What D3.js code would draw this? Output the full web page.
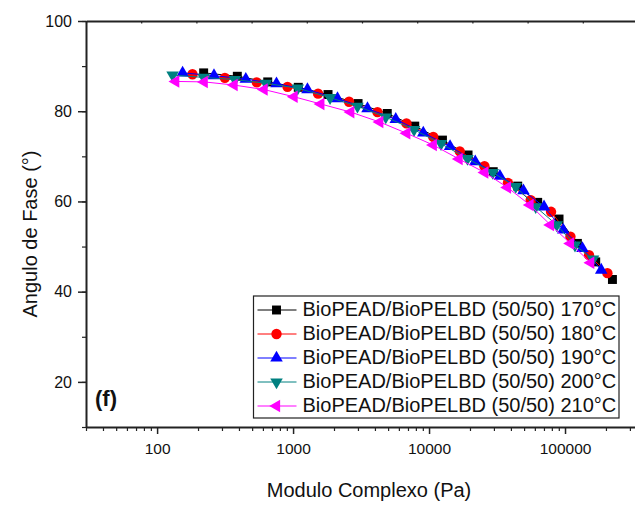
<!DOCTYPE html>
<html>
<head>
<meta charset="utf-8">
<script src="https://cdn.jsdelivr.net/npm/d3@7"></script>
<style>
  body { margin: 0; background: #fff; }
  text { font-family: Arial, "Liberation Sans", sans-serif; fill: #111; }
</style>
</head>
<body>
<svg id="chart"></svg>
<script>
// Values: complex modulus (Pa) vs phase angle (deg)
const seriesNames = [
  "BioPEAD/BioPELBD (50/50) 170°C",
  "BioPEAD/BioPELBD (50/50) 180°C",
  "BioPEAD/BioPELBD (50/50) 190°C",
  "BioPEAD/BioPELBD (50/50) 200°C",
  "BioPEAD/BioPELBD (50/50) 210°C"
];
const seriesColors = ["#000000", "#ff0000", "#0000ff", "#008080", "#ff00ff"];

const modulus170 = [220, 389, 651, 1092, 1808, 3006, 4929, 7851, 12550, 19360, 29650, 44890, 62950, 90360, 123300, 168200, 223200];
const phase170   = [88.5, 87.75, 86.5, 85.3, 83.7, 81.7, 79.5, 76.7, 73.6, 70.3, 66.6, 63.4, 59.8, 56.1, 50.7, 46.6, 42.7];

const modulus180 = [182, 315, 541, 910, 1527, 2581, 4174, 6822, 10740, 16820, 25550, 38030, 55950, 78930, 109600, 150200, 205000];
const phase180   = [88.2, 87.4, 86.4, 85.4, 83.9, 82.1, 79.8, 77.3, 74.3, 71.1, 67.8, 64.1, 60.3, 57.7, 52.2, 48.1, 44.1];

const modulus190 = [154, 262, 449, 755, 1276, 2121, 3525, 5690, 9067, 14270, 21870, 33210, 49440, 70090, 97000, 134300, 184600];
const phase190   = [88.5, 87.9, 87.1, 86.1, 84.8, 82.8, 80.6, 78.2, 75.2, 72.2, 68.8, 65.6, 62.4, 58.8, 53.7, 49.6, 44.8];

const modulus200 = [130, 220, 373, 630, 1083, 1871, 2975, 4804, 7757, 12250, 19160, 29400, 43400, 60900, 86900, 118400, 160700];
const phase200   = [88.0, 87.5, 87.0, 86.2, 85.1, 83.0, 81.1, 78.7, 75.9, 72.8, 69.5, 66.4, 63.3, 58.8, 54.8, 50.3, 47.2];

const modulus210 = [137, 222, 368, 612, 1017, 1599, 2657, 4340, 6855, 10740, 16620, 25680, 37720, 55290, 78100, 109600, 154500];
const phase210   = [86.6, 86.5, 85.8, 84.8, 83.2, 81.6, 79.8, 77.6, 75.1, 72.5, 69.4, 66.4, 63.1, 59.2, 54.8, 50.7, 46.4];

const xMajorTicks = [100, 1000, 10000, 100000];
const yMajorTicks = [20, 40, 60, 80, 100];

const allModulus = [modulus170, modulus180, modulus190, modulus200, modulus210];
const allPhase = [phase170, phase180, phase190, phase200, phase210];

const width = 635, height = 505;
const plotLeft = 86, plotTop = 21, plotBottom = 427, plotRight = 639;

const svg = d3.select("#chart")
    .attr("width", width)
    .attr("height", height);

const x = d3.scaleLog().domain([30, 350000]).range([plotLeft, plotRight]);
const y = d3.scaleLinear().domain([10, 100]).range([plotBottom, plotTop]);

// minor ticks for the log axis: 2..9 times each decade
const xMinorTicks = [];
for (let p = 1; p <= 5; p++) {
  for (let m = 2; m <= 9; m++) {
    const v = m * Math.pow(10, p);
    if (v >= 30 && v <= 350000) xMinorTicks.push(v);
  }
}

// bottom axis
svg.append("g")
    .attr("transform", `translate(0,${plotBottom})`)
    .call(d3.axisBottom(x).tickValues(xMinorTicks).tickSize(4).tickSizeOuter(0).tickFormat(""))
    .call(g => g.select(".domain").remove())
    .call(g => g.selectAll("line").attr("stroke", "#222").attr("stroke-width", 1.2));

svg.append("g")
    .attr("transform", `translate(0,${plotBottom})`)
    .call(d3.axisBottom(x).tickValues(xMajorTicks).tickSize(7).tickSizeOuter(0).tickPadding(9)
      .tickFormat(d3.format("d")))
    .call(g => g.select(".domain").attr("stroke", "#222").attr("stroke-width", 2))
    .call(g => g.selectAll("line").attr("stroke", "#222").attr("stroke-width", 1.5))
    .call(g => g.selectAll("text").attr("font-size", 15.5).attr("fill", "#111"));

// left axis
svg.append("g")
    .attr("transform", `translate(${plotLeft},0)`)
    .call(d3.axisLeft(y).tickValues(d3.range(10, 101, 10)).tickSize(4).tickSizeOuter(0).tickFormat(""))
    .call(g => g.select(".domain").remove())
    .call(g => g.selectAll("line").attr("stroke", "#222").attr("stroke-width", 1.2));

svg.append("g")
    .attr("transform", `translate(${plotLeft},0)`)
    .call(d3.axisLeft(y).tickValues(yMajorTicks).tickSize(8).tickSizeOuter(0).tickPadding(6))
    .call(g => g.select(".domain").attr("stroke", "#222").attr("stroke-width", 2))
    .call(g => g.selectAll("line").attr("stroke", "#222").attr("stroke-width", 1.5))
    .call(g => g.selectAll("text").attr("font-size", 16).attr("fill", "#111"));

// top axis line with its own evenly spaced ticks
const xTop = d3.scaleLinear().domain([0, 10]).range([plotLeft, 638]);
svg.append("g")
    .attr("transform", `translate(0,${plotTop})`)
    .call(d3.axisTop(xTop).ticks(10).tickSize(-2.5).tickSizeOuter(0).tickFormat(""))
    .call(g => g.select(".domain").attr("stroke", "#222").attr("stroke-width", 2))
    .call(g => g.selectAll("line").attr("stroke", "#222").attr("stroke-width", 1.2));

// axis titles
svg.append("text")
    .attr("x", 369)
    .attr("y", 497)
    .attr("text-anchor", "middle")
    .attr("font-size", 20)
    .text("Modulo Complexo (Pa)");

svg.append("text")
    .attr("transform", "translate(37,234) rotate(-90)")
    .attr("text-anchor", "middle")
    .attr("font-size", 20)
    .text("Angulo de Fase (°)");

svg.append("text")
    .attr("x", 95)
    .attr("y", 406)
    .attr("font-size", 22)
    .attr("font-weight", "bold")
    .text("(f)");

// marker shapes per series
const symbols = [
  { type: d3.symbolSquare, size: 80, rotate: 0 },
  { type: d3.symbolCircle, size: 85, rotate: 0 },
  { type: d3.symbolTriangle, size: 68, rotate: 0 },
  { type: d3.symbolTriangle, size: 68, rotate: 180 },
  { type: d3.symbolTriangle, size: 68, rotate: -90 }
];

const line = d3.line()
    .x(d => x(d[0]))
    .y(d => y(d[1]));

const plot = svg.append("g");

seriesNames.forEach((name, i) => {
  const pts = allModulus[i].map((m, j) => [m, allPhase[i][j]]);
  const g = plot.append("g");
  g.append("path")
      .datum(pts)
      .attr("d", line)
      .attr("fill", "none")
      .attr("stroke", seriesColors[i])
      .attr("stroke-width", 1);
  g.selectAll("path.marker")
      .data(pts)
      .enter()
      .append("path")
      .attr("class", "marker")
      .attr("d", d3.symbol().type(symbols[i].type).size(symbols[i].size))
      .attr("transform", d => `translate(${x(d[0])},${y(d[1])}) rotate(${symbols[i].rotate})`)
      .attr("fill", seriesColors[i]);
});

// legend
const legend = svg.append("g").attr("transform", "translate(253.5,296)");
legend.append("rect")
    .attr("width", 365.5)
    .attr("height", 122)
    .attr("fill", "#fff")
    .attr("stroke", "#222")
    .attr("stroke-width", 1.2);

seriesNames.forEach((name, i) => {
  const row = legend.append("g").attr("transform", `translate(0,${14 + i * 24})`);
  row.append("line")
      .attr("x1", 4).attr("x2", 43)
      .attr("stroke", seriesColors[i])
      .attr("stroke-width", 1);
  row.append("path")
      .attr("d", d3.symbol().type(symbols[i].type).size(symbols[i].size))
      .attr("transform", `translate(23,0) rotate(${symbols[i].rotate})`)
      .attr("fill", seriesColors[i]);
  row.append("text")
      .attr("x", 49)
      .attr("y", 6)
      .attr("font-size", 20)
      .text(name);
});
</script>
</body>
</html>
